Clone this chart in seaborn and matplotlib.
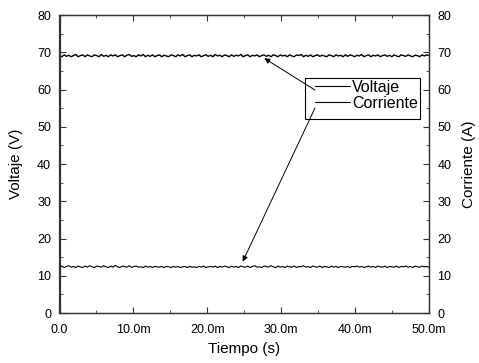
import numpy as np
import pandas as pd
import matplotlib
matplotlib.use("Agg")
import matplotlib.pyplot as plt
import matplotlib.patches as mpatches
import seaborn as sns

# values (0 .. 50 ms)
voltaje = [69.1, 68.8, 69.3, 68.9, 69.2, 68.8, 69.1, 69.4, 68.8, 69.1, 69.3, 68.8, 69.3, 69.0, 68.8, 69.3, 69.1, 68.8, 69.4, 68.9,
           69.2, 68.8, 69.3, 69.0, 69.3, 68.8, 69.1, 69.3, 68.8, 69.2, 69.4, 68.9, 69.1, 68.8, 69.3, 69.0, 69.4, 68.8, 69.2, 68.9,
           69.3, 68.8, 69.1, 69.3, 68.8, 69.2, 69.0, 68.8, 69.3, 69.1, 68.8, 69.3, 69.0, 69.4, 68.8, 69.1, 69.3, 68.8, 69.2, 69.0,
           69.3, 68.8, 69.1, 69.3, 68.9, 69.2, 68.8, 69.4, 69.0, 69.2, 68.8, 69.3, 69.1, 68.8, 69.3, 68.9, 69.2, 69.0, 69.4, 68.8,
           69.1, 69.3, 68.8, 69.2, 69.0, 69.3, 68.8, 69.1, 69.3, 68.9, 69.2, 68.8, 69.3, 69.1, 68.8, 69.3, 69.0, 69.2, 68.8, 69.3,
           69.0, 68.8, 69.3, 69.1, 69.4, 68.8, 69.2, 68.9, 69.3, 68.8, 69.1, 69.3, 68.9, 69.2, 69.0, 68.8, 69.3, 69.1, 68.8, 69.3,
           69.0, 69.2, 68.8, 69.3, 68.9, 69.3, 69.1, 68.8, 69.2, 69.0, 69.4, 68.8, 69.1, 69.3, 68.8, 69.2, 69.0, 69.3, 68.8, 69.1,
           69.3, 68.9, 69.2, 68.8, 69.3, 69.0, 68.8, 69.3, 69.1, 68.9, 69.3, 69.0, 68.8, 69.2, 69.1, 68.8, 69.3, 69.0, 69.3, 69.1]
corriente = [12.3, 12.6, 12.2, 12.5, 12.7, 12.3, 12.5, 12.2, 12.6, 12.4, 12.2, 12.6, 12.3, 12.7, 12.4, 12.2, 12.6, 12.5, 12.3, 12.7,
             12.4, 12.2, 12.6, 12.3, 12.8, 12.4, 12.2, 12.6, 12.5, 12.3, 12.7, 12.2, 12.5, 12.6, 12.3, 12.4, 12.2, 12.6, 12.3, 12.5,
             12.2, 12.5, 12.4, 12.3, 12.5, 12.2, 12.5, 12.4, 12.2, 12.5, 12.3, 12.5, 12.2, 12.4, 12.5, 12.2, 12.5, 12.3, 12.4, 12.2,
             12.5, 12.3, 12.6, 12.2, 12.4, 12.5, 12.3, 12.6, 12.2, 12.5, 12.3, 12.6, 12.4, 12.2, 12.6, 12.3, 12.5, 12.2, 12.6, 12.4,
             12.3, 12.6, 12.2, 12.5, 12.7, 12.3, 12.4, 12.2, 12.6, 12.5, 12.3, 12.7, 12.4, 12.2, 12.6, 12.3, 12.5, 12.2, 12.6, 12.4,
             12.3, 12.6, 12.2, 12.5, 12.4, 12.7, 12.3, 12.5, 12.2, 12.6, 12.4, 12.3, 12.6, 12.2, 12.5, 12.4, 12.2, 12.6, 12.3, 12.5,
             12.2, 12.5, 12.4, 12.3, 12.5, 12.2, 12.5, 12.4, 12.6, 12.3, 12.5, 12.2, 12.4, 12.6, 12.3, 12.5, 12.2, 12.6, 12.4, 12.3,
             12.6, 12.2, 12.5, 12.4, 12.3, 12.6, 12.2, 12.5, 12.4, 12.6, 12.3, 12.5, 12.2, 12.6, 12.4, 12.3, 12.6, 12.4, 12.5, 12.3]
tiempo = np.linspace(0.0, 0.05, len(voltaje))

x_ticks = [0.0, 0.01, 0.02, 0.03, 0.04, 0.05]
x_labels = ["0.0", "10.0m", "20.0m", "30.0m", "40.0m", "50.0m"]
y_ticks = [0, 10, 20, 30, 40, 50, 60, 70, 80]

sns.set_style("ticks")
plt.rcParams["font.family"] = ["Liberation Sans", "DejaVu Sans"]
plt.rcParams["text.color"] = "black"
plt.rcParams["axes.labelcolor"] = "black"

df = pd.DataFrame({"t": tiempo, "V": voltaje, "I": corriente})

fig = plt.figure(figsize=(4.79, 3.63), dpi=100)
ax = fig.add_axes([59.5/479, 1 - 313/363, 369.5/479, 298/363])
ax2 = ax.twinx()

sns.lineplot(data=df, x="t", y="V", ax=ax, color="black", lw=1.0, label="Voltaje", legend=False)
sns.lineplot(data=df, x="t", y="I", ax=ax2, color="black", lw=0.8, label="Corriente", legend=False)

for a in (ax, ax2):
    a.set_ylim(0, 80)
    a.set_yticks(y_ticks)
    a.yaxis.set_minor_locator(matplotlib.ticker.MultipleLocator(5))
    for s in a.spines.values():
        s.set_visible(True)
        s.set_color("#333333")
        s.set_linewidth(0.9)
ax.set_xlim(0, 0.05)
ax.set_xticks(x_ticks)
ax.set_xticklabels(x_labels)
ax.xaxis.set_minor_locator(matplotlib.ticker.MultipleLocator(0.005))

ax.tick_params(axis="x", which="major", direction="in", length=4, labelsize=9, pad=8,
               top=True, colors="#333333", labelcolor="black")
ax.tick_params(axis="y", which="major", direction="in", length=4, labelsize=9, pad=6,
               right=False, colors="#333333", labelcolor="black")
ax.tick_params(axis="both", which="minor", direction="in", length=2, top=True,
               colors="#333333")
ax2.tick_params(axis="y", which="major", direction="in", length=4, labelsize=9, pad=6,
                colors="#333333", labelcolor="black")
ax2.tick_params(axis="y", which="minor", direction="in", length=2, colors="#333333")

ax.set_xlabel("Tiempo (s)", fontsize=11, labelpad=4, color="black")
ax.set_ylabel("Voltaje (V)", fontsize=11, labelpad=10, color="black")
ax2.set_ylabel("Corriente (A)", fontsize=11, labelpad=8, color="black")

# legend box
ax.add_patch(mpatches.Rectangle((0.664, 0.651), 0.312, 0.139, transform=ax.transAxes,
                                fill=True, facecolor="white", edgecolor="black",
                                lw=0.8, zorder=5))
h1, l1 = ax.get_legend_handles_labels()
h2, l2 = ax2.get_legend_handles_labels()
leg = ax2.legend(h1 + h2, l1 + l2, loc="upper left", bbox_to_anchor=(0.6915, 0.782),
                 bbox_transform=ax.transAxes, fontsize=11.5, frameon=False,
                 handlelength=2.2, handletextpad=0.12, borderpad=0, labelspacing=0.05,
                 borderaxespad=0, labelcolor="black")
leg.set_zorder(6)
for line in leg.get_lines():
    line.set_linewidth(0.8)

arrow = dict(arrowstyle="-|>", color="black", lw=0.7, mutation_scale=8, shrinkA=0, shrinkB=0)
ax2.annotate("", xy=(0.02771, 68.4), xycoords=ax.transData,
             xytext=(0.6915, 0.748), textcoords=ax.transAxes, arrowprops=arrow, zorder=7)
ax2.annotate("", xy=(0.02479, 13.8), xycoords=ax.transData,
             xytext=(0.6915, 0.688), textcoords=ax.transAxes, arrowprops=arrow, zorder=7)

fig.savefig("out.png", dpi=100)
